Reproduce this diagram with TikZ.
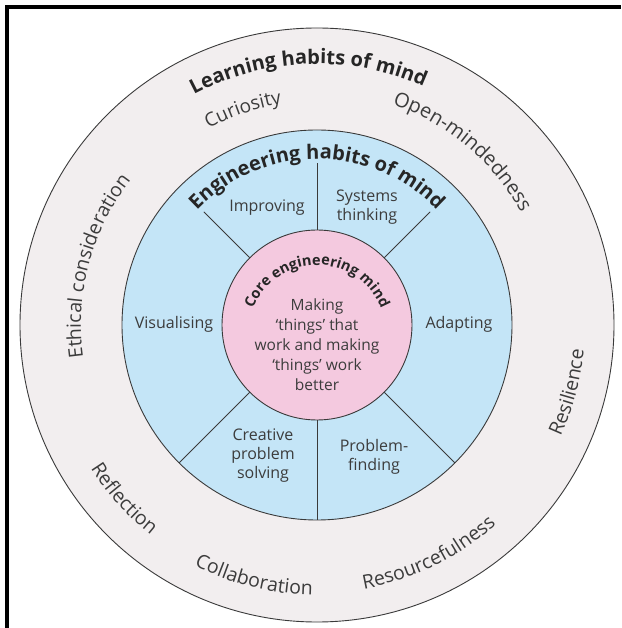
\documentclass[tikz,border=0pt]{standalone}
\usepackage{fontspec}
\setmainfont{Open Sans}
\usepackage{tikz}
\usetikzlibrary{decorations.text}
\definecolor{outerfill}{HTML}{F2EEEF}
\definecolor{habitblue}{HTML}{C4E5F7}
\definecolor{corepink}{HTML}{F4C9DF}
\definecolor{ringline}{HTML}{3A3A3A}
\definecolor{inkgray}{HTML}{3C3C3C}
\tikzset{
  ring/.style={draw=ringline,line width=0.9pt},
  divider/.style={draw=ringline,line width=1pt},
  habit/.style={text=inkgray,font=\fontsize{16}{19}\selectfont,align=center,inner sep=0pt},
  curved/.style={decorate,decoration={text along path,text align=center,text color=inkgray,text={#1}}}
}

\begin{document}
\begin{tikzpicture}[x=1pt,y=1pt]
  \useasboundingbox (-317,-303) rectangle (304,325);
  % frame
  \draw[line width=3.5pt] (-310,-303) -- (-310,318) -- (304,318);
  % rings
  \fill[outerfill] (0,0) circle (297);
  \draw[ring] (0,0) circle (297);
  \fill[habitblue] (0,0) circle (195);
  \draw[ring] (0,0) circle (195);
  \draw[divider] (45:95) -- (45:160);
  \draw[divider] (90:95) -- (90:162);
  \draw[divider] (135:95) -- (135:160);
  \draw[divider] (225:95) -- (225:195);
  \draw[divider] (270:95) -- (270:195);
  \draw[divider] (315:95) -- (315:195);
  \fill[corepink] (0,0) circle (95);
  \draw[ring] (0,0) circle (95);
  % learning habits, outer ring
  \path[curved={|\bfseries\fontsize{20}{20}\selectfont\color{black!85}|Learning habits of mind}] (152:261) arc (152:32:261);
  \path[curved={|\fontsize{19}{19}\selectfont|Curiosity}] (149:224) arc (149:69:224);
  \path[curved={|\fontsize{20}{20}\selectfont|Open-mindedness}] (95:233) arc (95:5:233);
  \path[curved={|\fontsize{19.5}{19.5}\selectfont|Ethical consideration}] (210:236) arc (210:120:236);
  \path[curved={|\fontsize{19.5}{19.5}\selectfont|Resilience}] (-55:268) arc (-55:25:268);
  \path[curved={|\fontsize{19.5}{19.5}\selectfont|Reflection}] (182:268) arc (182:262:268);
  \path[curved={|\fontsize{19.5}{19.5}\selectfont|Collaboration}] (216:270) arc (216:296:270);
  \path[curved={|\fontsize{19.5}{19.5}\selectfont|Resourcefulness}] (251:268) arc (251:341:268);
  % engineering habits, blue ring
  \path[curved={|\bfseries\fontsize{20}{20}\selectfont\color{black!85}|Engineering habits of mind}] (150:166) arc (150:30:166);
  \node[habit] (improving) at (-50,117) {Improving};
  \node[habit] (systems) at (50,118) {Systems\\thinking};
  \node[habit] (visualising) at (-143,1) {Visualising};
  \node[habit] (adapting) at (142,1) {Adapting};
  \node[habit] (creative) at (-54,-131) {Creative\\problem\\solving};
  \node[habit] (finding) at (57,-132) {Problem-\\finding};
  % core
  \path[curved={|\bfseries\fontsize{14.5}{14.5}\selectfont\color{black!85}|Core engineering mind}] (0,-9) ++(178:69) arc (178:2:69);
  \node[habit,font=\fontsize{15.5}{20}\selectfont] (core) at (0,-20) {Making\\‘things’ that\\work and making\\‘things’ work\\better};
\end{tikzpicture}
\end{document}
